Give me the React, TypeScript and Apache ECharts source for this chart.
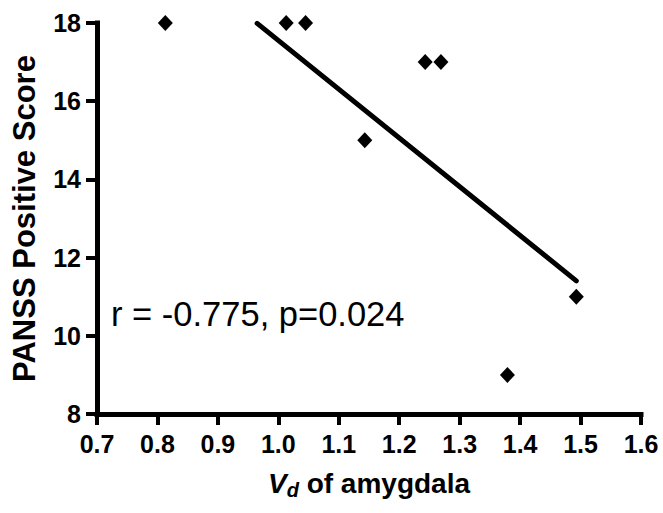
import React, { useEffect, useRef } from "react";
import * as echarts from "echarts";

const xValues = [0.813, 1.013, 1.045, 1.143, 1.243, 1.269, 1.379, 1.493];
const yValues = [18, 18, 18, 15, 17, 17, 9, 11];
const xTicks = { min: 0.7, max: 1.6, interval: 0.1 };
const yTicks = { min: 8, max: 18, interval: 2 };
const fitStartX = 0.965;
const annotation = "r = -0.775, p=0.024";

function linearFit(xs: number[], ys: number[]) {
  const n = xs.length;
  const mx = xs.reduce((a, b) => a + b, 0) / n;
  const my = ys.reduce((a, b) => a + b, 0) / n;
  let sxy = 0;
  let sxx = 0;
  for (let i = 0; i < n; i++) {
    sxy += (xs[i] - mx) * (ys[i] - my);
    sxx += (xs[i] - mx) * (xs[i] - mx);
  }
  const slope = sxy / sxx;
  return { slope, intercept: my - slope * mx };
}

const FONT = "'Liberation Sans', Arial, sans-serif";

export default function App() {
  const ref = useRef<HTMLDivElement>(null);
  useEffect(() => {
    if (!ref.current) return;
    const chart = echarts.init(ref.current, null, { renderer: "svg" });
    const fit = linearFit(xValues, yValues);
    const fitEndX = Math.max(...xValues);
    const fitLine = [
      [fitStartX, fit.intercept + fit.slope * fitStartX],
      [fitEndX, fit.intercept + fit.slope * fitEndX],
    ];
    chart.setOption({
      animation: false,
      backgroundColor: "#ffffff",
      textStyle: { fontFamily: FONT },
      grid: {
        left: 97,
        right: 22,
        top: 23,
        bottom: 99,
        containLabel: false,
        outerBoundsMode: "none",
      },
      xAxis: {
        type: "value",
        min: xTicks.min,
        max: xTicks.max,
        interval: xTicks.interval,
        splitLine: { show: false },
        axisLine: { show: true, lineStyle: { color: "#000", width: 5, cap: "square", opacity: 1 } },
        axisTick: { show: true, length: 11, lineStyle: { color: "#000", width: 4 } },
        axisLabel: {
          color: "#000",
          fontFamily: FONT,
          fontWeight: "bold",
          fontSize: 25,
          margin: 17,
          formatter: (v: number) => v.toFixed(1),
        },
        name: "{v|V}{d|d}{t| of amygdala}",
        nameLocation: "middle",
        nameGap: 52,
        nameMoveOverlap: false,
        nameTextStyle: {
          color: "#000",
          fontFamily: FONT,
          fontWeight: "bold",
          fontSize: 28,
          rich: {
            v: { fontFamily: FONT, fontWeight: "bold", fontStyle: "italic", fontSize: 28, color: "#000" },
            d: { fontFamily: FONT, fontWeight: "bold", fontStyle: "italic", fontSize: 20, color: "#000", padding: [14, 0, 0, 0] },
            t: { fontFamily: FONT, fontWeight: "bold", fontSize: 28, color: "#000" },
          },
        },
      },
      yAxis: {
        type: "value",
        min: yTicks.min,
        max: yTicks.max,
        interval: yTicks.interval,
        splitLine: { show: false },
        axisLine: { show: true, lineStyle: { color: "#000", width: 5, cap: "square", opacity: 1 } },
        axisTick: { show: true, length: 11, lineStyle: { color: "#000", width: 4 } },
        axisLabel: {
          color: "#000",
          fontFamily: FONT,
          fontWeight: "bold",
          fontSize: 25,
          margin: 16,
        },
        name: "PANSS Positive Score",
        nameLocation: "middle",
        nameGap: 57,
        nameMoveOverlap: false,
        nameRotate: 90,
        nameTextStyle: {
          color: "#000",
          fontFamily: FONT,
          fontWeight: "bold",
          fontSize: 31,
        },
      },
      graphic: [
        {
          type: "text",
          left: 111,
          top: 296,
          style: {
            text: annotation,
            fontFamily: FONT,
            fontSize: 34.5,
            fill: "#000",
          },
        },
      ],
      series: [
        {
          type: "line",
          data: fitLine,
          symbol: "none",
          lineStyle: { color: "#000", width: 5, cap: "round", opacity: 1 },
          z: 2,
        },
        {
          type: "scatter",
          data: xValues.map((x, i) => [x, yValues[i]]),
          symbol: "diamond",
          symbolSize: [15, 16],
          itemStyle: { color: "#000", opacity: 1 },
          z: 3,
        },
      ],
    });
    return () => chart.dispose();
  }, []);
  return <div ref={ref} style={{ width: 663, height: 513, position: "absolute", left: 0, top: 0 }} />;
}
